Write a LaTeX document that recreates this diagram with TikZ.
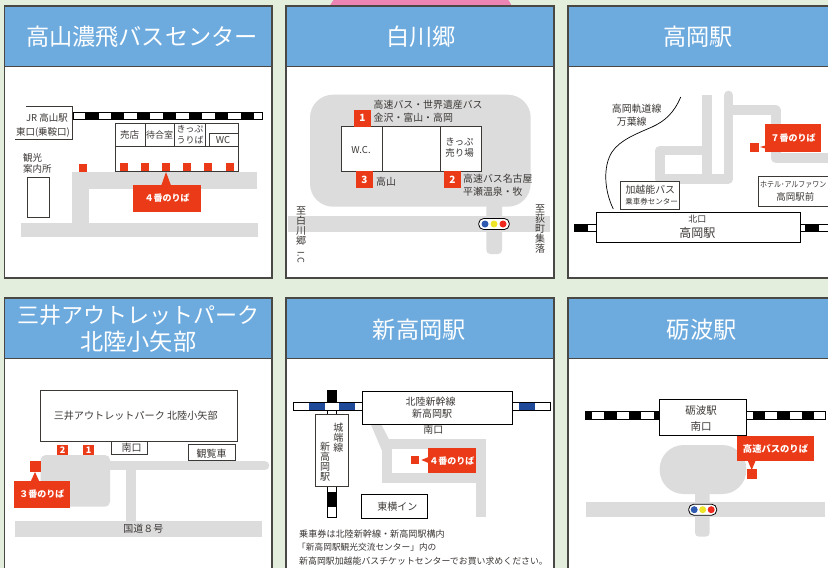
\documentclass[tikz,border=0pt]{standalone}
\usepackage{graphicx}
\usepackage{fontspec}
\setmainfont{Noto Sans CJK JP}
\definecolor{bgc}{HTML}{E3EEDD}
\definecolor{hdr}{HTML}{6DABDF}
\definecolor{frm}{HTML}{4A4844}
\definecolor{roadc}{HTML}{DCDCDC}
\definecolor{redc}{HTML}{EB3A17}
\definecolor{pinkc}{HTML}{EC85B3}
\definecolor{ink}{HTML}{3C3836}
\definecolor{bluet}{HTML}{1F4A9A}
\definecolor{lblue}{HTML}{2F5BB0}
\definecolor{lyel}{HTML}{EEE52B}
\definecolor{lred}{HTML}{EE2A1E}
\tikzset{
  x=1pt,y=-1pt,
  lbl/.style={inner sep=0pt,text=ink,font=\fontsize{#1}{#1}\selectfont,align=center},
  ttl/.style={inner sep=0pt,text=white,font=\fontsize{23.2}{26}\selectfont,align=center},
  callout/.style={inner sep=0pt,fill=redc,text=white,font=\bfseries\fontsize{9}{9}\selectfont},
  badge/.style={inner sep=0pt,fill=redc,text=white,font=\bfseries\fontsize{#1}{#1}\selectfont},
  boxline/.style={draw=ink,line width=0.8pt,fill=white},
  thin ink/.style={draw=ink,line width=0.8pt},
  road/.style={fill=roadc},
  roadl/.style={draw=roadc,line width=9.7pt},
  rsq/.style={fill=redc},
  lamp/.style={draw=black,line width=0.8pt,fill=white,rounded corners=5pt}
}
\newcommand{\panel}[5]{%
  \fill[white] (#1,#2) rectangle (#3,#4);
  \fill[hdr] (#1,#2) rectangle (#3,#5);
  \draw[frm,line width=1.2pt] (#1,#5) -- (#3,#5);
  \draw[frm,line width=1.2pt] (#1,#2) rectangle (#3,#4);}
\newcommand{\trk}[6]{%
  \fill[white] (#1,#2) rectangle (#3,#4);
  \foreach \a/\b in {#5} \fill[#6] (\a,#2) rectangle (\b,#4);
  \draw[black,line width=0.7pt] (#1,#2) rectangle (#3,#4);}
\newcommand{\signal}[4]{% x0,x1,y,spacing centre
  \draw[lamp] (#1,#3-5.5) rectangle (#2,#3+5.5);
  \fill[lblue] ({(#1+#2)/2-#4},#3) circle[radius=3.5pt];
  \fill[lyel] ({(#1+#2)/2},#3) circle[radius=3.5pt];
  \fill[lred] ({(#1+#2)/2+#4},#3) circle[radius=3.5pt];}
\begin{document}
\begin{tikzpicture}
\useasboundingbox (0,0) rectangle (828,568);
\fill[bgc] (0,0) rectangle (828,568);
\fill[pinkc] (329,8) .. controls (331,3) and (334,-3) .. (340,-3) -- (502,-3) .. controls (508,-3) and (511,3) .. (512,8) -- cycle;

% ---- panel frames
\panel{4.3}{6}{272}{278}{66.5}
\panel{286}{6}{554}{278}{66.5}
\panel{568}{6}{840}{278}{66.5}
\panel{4.3}{298}{272}{585}{358.5}
\panel{286}{298}{554}{585}{358.5}
\panel{568}{298}{840}{585}{358.5}

% ---- panel 1
\node[ttl] (t1) at (142,37) {高山濃飛バスセンター};
\fill[road] (72,172) rectangle (257,189);
\fill[road] (72,172) rectangle (89,224);
\fill[road] (21,223) rectangle (258,237);
\trk{73}{112.3}{262}{119.3}{85.3/98.7,111.3/124,137.3/150,163/176,189/202,215/227.7,241/254}{black}
\fill[white] (26,106.5) rectangle (72.5,139.3);
\draw[thin ink] (26,106.5) -- (72.5,106.5) -- (72.5,139.3) -- (15,139.3);
\node[lbl=9.5] (jr1) at (47,118) {JR 高山駅};
\node[lbl=9.5] (jr2) at (43,132) {東口(乗鞍口)};
\draw[boxline] (115.7,123.5) rectangle (238,171.5);
\draw[thin ink] (115.7,146.7) -- (238,146.7);
\draw[thin ink] (145.3,123.5) -- (145.3,146.7);
\draw[thin ink] (174.5,123.5) -- (174.5,146.7);
\draw[thin ink] (205.5,123.5) -- (205.5,146.7);
\draw[thin ink] (209,146.7) -- (209,133.3) -- (238,133.3);
\node[lbl=9.5] (s1) at (129.5,135) {売店};
\node[lbl=9] (s2) at (159.5,135) {待合室};
\node[lbl=9] (s3) at (190,129.5) {きっぷ};
\node[lbl=9] (s4) at (190,140.5) {うりば};
\node[lbl=9.5] (s5) at (223,140.5) {WC};
\foreach \x in {120,141,162,183,204,226} \fill[rsq] (\x,163) rectangle (\x+8,171.3);
\fill[rsq] (79,164) rectangle (87,172);
\fill[rsq] (166,172) -- (171,185.5) -- (161.3,185.5) -- cycle;
\node[callout,minimum width=68pt,minimum height=27pt] (c1) at (167,198.5) {４番のりば};
\node[lbl=9.5,anchor=west] (k1) at (23,158) {観光};
\node[lbl=9.5,anchor=west] (k2) at (23,169) {案内所};
\draw[boxline] (27,177.3) rectangle (49,217.3);

% ---- panel 2
\node[ttl] (t2) at (421,37) {白川郷};
\fill[road,rounded corners=23pt] (310,94.7) rectangle (530.7,206.7);
\fill[road] (288,216) rectangle (550,232);
\fill[road,rounded corners=4pt] (486.3,200) rectangle (502,254);
\draw[boxline] (341.3,126.7) rectangle (481.3,171.3);
\draw[thin ink] (382.7,126.7) -- (382.7,171.3);
\draw[thin ink] (440,126.7) -- (440,171.3);
\node[lbl=9.5] (w1) at (361,150.5) {W.C.};
\node[lbl=9.5] (w2) at (459.5,142) {きっぷ};
\node[lbl=9.5] (w3) at (459.5,153) {売り場};
\node[badge=10,minimum size=16.7pt] (b1) at (362.3,118.3) {1};
\node[badge=10,minimum size=16.7pt] (b3) at (364.3,179.6) {3};
\node[badge=10,minimum size=16.7pt] (b2) at (452.3,179.6) {2};
\node[lbl=9.9,anchor=west] (r1) at (373.5,104.5) {高速バス・世界遺産バス};
\node[lbl=9.9,anchor=west] (r2) at (373.5,118) {金沢・富山・高岡};
\node[lbl=9.9,anchor=west] (r3) at (376,181.5) {高山};
\node[lbl=9.9,anchor=west] (r4) at (463,179) {高速バス名古屋};
\node[lbl=9.9,anchor=west] (r5) at (463,192) {平瀬温泉・牧};
\signal{478.7}{509.3}{224}{9}
\node[lbl=10,anchor=north] (v1) at (301,207) {至\\白\\川\\郷};
\node[lbl=9,rotate=-90,anchor=east] (v2) at (301,263) {I.C};
\node[lbl=10,anchor=north] (v3) at (540,204.5) {至\\荻\\町\\集\\落};

% ---- panel 3
\node[ttl] (t3) at (698,37) {高岡駅};
\draw[roadl] (707.2,95) -- (707.2,184);
\draw[roadl,line join=round,line cap=round] (707.2,150.5) -- (659.8,150.5) -- (659.8,178.7) -- (728.5,178.7) -- (728.5,95.5);
\draw[roadl,line join=round] (728.5,110.3) -- (775.8,110.3) -- (775.8,158.2) -- (835,158.2);
\draw[black,line width=0.7pt] (680.7,97) .. controls (674,113) and (665,121) .. (652,127) .. controls (636,134) and (620,140) .. (612,152) .. controls (603,166) and (604,190) .. (613.3,209);
\node[lbl=9.9] (m1) at (636.7,109) {高岡軌道線};
\node[lbl=9.9] (m2) at (631.7,121.7) {万葉線};
\draw[boxline] (620.7,181.7) rectangle (679.3,209.3);
\node[lbl=9.9] (m3) at (650.3,190) {加越能バス};
\node[lbl=7.5] (m4) at (651.7,201.3) {乗車券センター};
\draw[boxline] (758.7,176.7) rectangle (840,206.7);
\node[lbl=8,anchor=west] (m5) at (760,185) {\scalebox{0.87}[1]{ホテル･アルファワン}};
\node[lbl=9.5] (m6) at (795.3,197.3) {高岡駅前};
\trk{574.3}{224}{600}{231.3}{574.3/588.3}{black}
\trk{797}{224}{835}{231.3}{805.3/819.3}{black}
\draw[boxline,draw=black] (596,212.3) rectangle (800.7,242.7);
\node[lbl=9] (m7) at (697.3,218.7) {北口};
\node[lbl=12] (m8) at (697.3,232.7) {高岡駅};
\fill[rsq] (750,143) rectangle (759,152);
\fill[rsq] (760,147) -- (766,145.3) -- (766,148.7) -- cycle;
\node[callout,minimum width=56pt,minimum height=28pt] (c3) at (793,138) {７番のりば};

% ---- panel 4
\node[ttl,font=\fontsize{22}{26}\selectfont] (t4a) at (138.3,315) {三井アウトレットパーク};
\node[ttl] (t4b) at (138.3,341.5) {北陸小矢部};
\draw[boxline] (40.3,390) rectangle (237,441.7);
\node[lbl=10.1] (p1) at (135.7,415.3) {三井アウトレットパーク 北陸小矢部};
\draw[boxline] (111.3,441.7) rectangle (147.7,454.3);
\node[lbl=10] (p2) at (131.7,447.7) {南口};
\draw[boxline] (188,444.3) rectangle (235,460.7);
\node[lbl=10] (p3) at (211.7,453.3) {観覧車};
\fill[road,rounded corners=5pt] (40.7,455) rectangle (110,506.7);
\draw[roadl,line width=9.4pt,line cap=round] (105,465.7) -- (264.6,465.7);
\fill[road] (126.3,461) rectangle (136,522);
\fill[road] (15,521) rectangle (262,537);
\node[lbl=10] (p4) at (143.3,529) {国道８号};
\node[badge=9,minimum width=11pt,minimum height=10pt] (q2) at (62.5,450) {2};
\node[badge=9,minimum width=11pt,minimum height=10pt] (q1) at (88.5,450) {1};
\fill[rsq] (30,461) rectangle (41,472);
\fill[rsq] (35,472) -- (39.3,481.5) -- (30.7,481.5) -- cycle;
\node[callout,minimum width=56pt,minimum height=26.7pt] (c4) at (42,494.3) {３番のりば};

% ---- panel 5
\node[ttl] (t5) at (419.3,330) {新高岡駅};
\fill[road] (370.7,424) -- (381,424) -- (389,439.3) -- (381.7,450) -- cycle;
\fill[road] (381.7,439.3) rectangle (485.7,483);
\fill[white] (392,448.7) rectangle (475.7,473);
\fill[road] (475.7,480) rectangle (485.7,516.7);
\trk{327.3}{390.7}{336.3}{517.3}{}{white}
\fill[black] (327.3,390.7) rectangle (336.3,402);
\fill[black] (327.3,492.3) rectangle (336.3,506.7);
\trk{293.7}{402.3}{550}{410.7}{309/324.7,339/354.7,519.3/535.3}{bluet}
\draw[boxline] (315,414) rectangle (348,486.3);
\node[lbl=10,anchor=center] (n1) at (338.3,438) {城\\端\\線};
\node[lbl=10,anchor=center] (n2) at (325,461.5) {新\\高\\岡\\駅};
\draw[boxline,draw=black] (362,391.7) rectangle (512.3,424.3);
\node[lbl=10] (n3) at (430.7,402) {北陸新幹線};
\node[lbl=10] (n4) at (432,413.7) {新高岡駅};
\node[lbl=10] (n5) at (433.3,429.7) {南口};
\fill[rsq] (411,456) rectangle (419,464);
\fill[rsq] (421.3,460) -- (429,456.8) -- (429,463.2) -- cycle;
\node[callout,minimum width=47.7pt,minimum height=24.7pt] (c5) at (451.8,460.7) {４番のりば};
\draw[boxline,draw=black] (361.3,494.3) rectangle (427.7,518.3);
\node[lbl=10] (n6) at (397.3,506.7) {東横イン};
\node[lbl=9.1,anchor=west] (n7) at (299,534) {乗車券は北陸新幹線・新高岡駅構内};
\node[lbl=8.7,anchor=west] (n8) at (297,547.3) {「新高岡駅観光交流センター」内の};
\node[lbl=8.9,anchor=west] (n9) at (299,560.7) {新高岡駅加越能バスチケットセンターでお買い求めください。};

% ---- panel 6
\node[ttl] (t6) at (701.7,330) {砺波駅};
\fill[road,rounded corners=24pt] (659.7,445) rectangle (746.3,494);
\fill[road,rounded corners=4pt] (695,488) rectangle (709.7,536.7);
\fill[road] (586,502) rectangle (825.3,517);
\trk{585.7}{411.7}{825.3}{419.3}{585.7/591.7,604.3/616.7,629/641.3,653.7/660,752.7/765,777.3/789.7,802/814.3}{black}
\draw[boxline,draw=black] (659.3,399.7) rectangle (746.7,435);
\node[lbl=10.5] (o1) at (701,411) {砺波駅};
\node[lbl=10.5] (o2) at (701,426.3) {南口};
\signal{688.7}{716.7}{509.7}{8.5}
\fill[rsq] (747,469) rectangle (757,479);
\fill[rsq] (751.7,470) -- (755.7,460.5) -- (747.7,460.5) -- cycle;
\node[callout,font=\bfseries\fontsize{9.3}{9.3}\selectfont,minimum width=77pt,minimum height=25pt] (c6) at (775.5,448.5) {高速バスのりば};
\end{tikzpicture}
\end{document}
